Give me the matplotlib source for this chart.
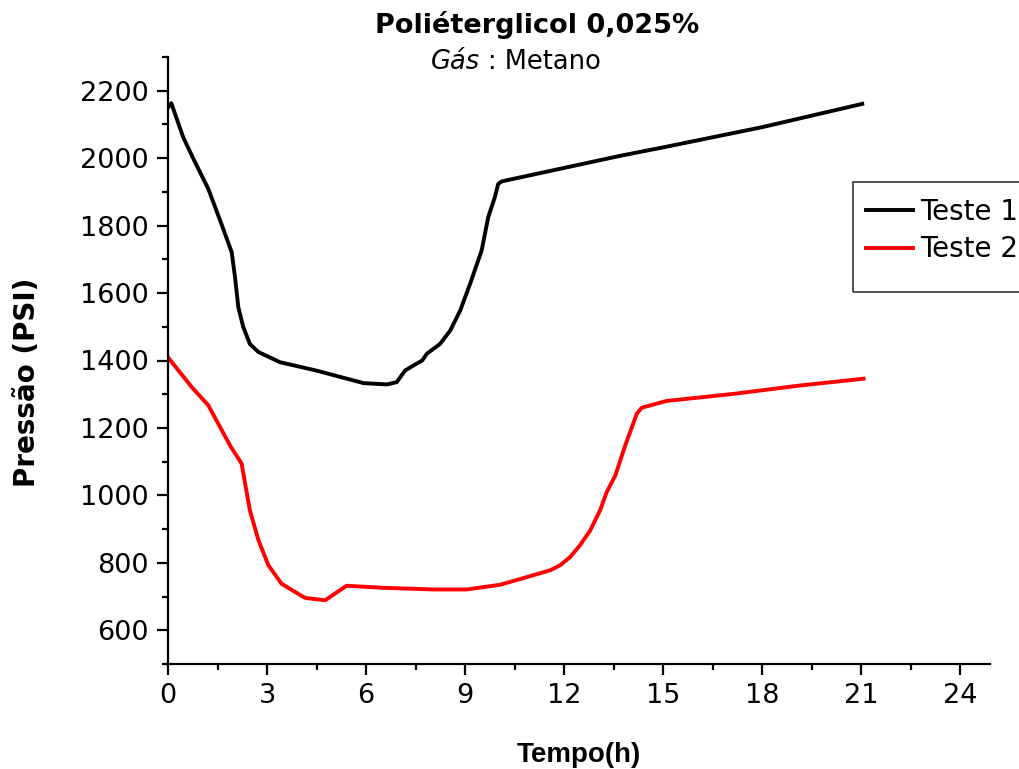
import numpy as np
import matplotlib
matplotlib.use('Agg')
import matplotlib.pyplot as plt
from matplotlib.ticker import MultipleLocator
from matplotlib.patches import Rectangle

#data (time in hours, pressure in PSI)
t1 = [0.0, 0.1, 0.46, 0.77, 1.22, 1.58, 1.93, 2.03, 2.13, 2.28, 2.48, 2.74, 3.39, 4.5,
      5.92, 6.63, 6.93, 7.18, 7.43, 7.7, 7.84, 8.24, 8.55, 8.85, 9.15, 9.5, 9.7, 9.9,
      10.0, 10.1, 13.7, 15.0, 18.0, 21.03]
p1 = [2150, 2163, 2062, 1998, 1909, 1815, 1721, 1647, 1558, 1499, 1449, 1425, 1395, 1370,
      1333, 1329, 1336, 1370, 1385, 1400, 1420, 1449, 1489, 1548, 1627, 1726, 1825, 1884,
      1923, 1931, 2007, 2032, 2092, 2161]

t2 = [0.01, 0.72, 1.22, 1.88, 2.23, 2.48, 2.74, 3.04, 3.44, 4.15, 4.76, 5.06, 5.41, 6.52,
      8.04, 9.05, 10.06, 10.67, 11.58, 11.88, 12.18, 12.48, 12.79, 13.09, 13.29, 13.55,
      13.85, 14.2, 14.35, 15.1, 17.13, 19.15, 21.07]
p2 = [1408, 1321, 1267, 1148, 1094, 956, 867, 793, 738, 696, 689, 709, 732, 726,
      721, 721, 735, 752, 778, 793, 817, 852, 896, 956, 1010, 1059,
      1148, 1242, 1260, 1280, 1301, 1326, 1346]

plt.rcParams['font.family'] = 'DejaVu Sans'

W, H = 1019, 769
fig = plt.figure(figsize=(W/100, H/100), dpi=100)
ax = fig.add_axes([168/W, 1-664/H, (990-168)/W, (664-57)/H])

l1, = ax.plot(t1, p1, color='black', lw=2.8, label='Teste 1')
l2, = ax.plot(t2, p2, color='red', lw=2.8, label='Teste 2')

ax.set_xlim(0, 24.9)
ax.set_ylim(500, 2300)
ax.xaxis.set_major_locator(MultipleLocator(3))
ax.xaxis.set_minor_locator(MultipleLocator(1.5))
ax.set_yticks(np.arange(600, 2201, 200))
ax.yaxis.set_minor_locator(MultipleLocator(100))

for s in ['top', 'right']:
    ax.spines[s].set_visible(False)
for s in ['left', 'bottom']:
    ax.spines[s].set_linewidth(1.6)
ax.tick_params(which='major', direction='out', length=8, width=1.6, labelsize=19.5, pad=6)
ax.tick_params(which='minor', direction='out', length=4, width=1.6)

#titles and labels
fig.text(537/W, 1-33/H, 'Poliéterglicol 0,025%', ha='center', va='baseline',
         fontsize=19.5, fontweight='bold')
fig.text(480/W, 1-69/H, 'Gás', ha='right', va='baseline', fontsize=18.5, style='italic')
fig.text(488/W, 1-69/H, ': Metano', ha='left', va='baseline', fontsize=18.5)
fig.text(579/W, 1-762/H, 'Tempo(h)', ha='center', va='baseline', fontsize=20,
         fontweight='bold', family='Liberation Sans')
fig.text(27/W, 1-382/H, 'Pressão (PSI)', ha='center', va='center', rotation=90,
         fontsize=20, fontweight='bold')

#legend, box drawn separately so it keeps the empty space at the bottom
leg = ax.legend([l1, l2], ['Teste 1', 'Teste 2'], loc='upper left',
                bbox_to_anchor=(850/W, 1-182/H), bbox_transform=fig.transFigure,
                borderaxespad=0, fontsize=20, frameon=False,
                handlelength=1.7, handletextpad=0.25,
                labelspacing=0.34, borderpad=0.57)
fig.patches.append(Rectangle((853/W, 1-292/H), 180/W, 110/H, transform=fig.transFigure,
                             fill=False, edgecolor='#333333', lw=1.2))

plt.savefig('out.png', dpi=100)
